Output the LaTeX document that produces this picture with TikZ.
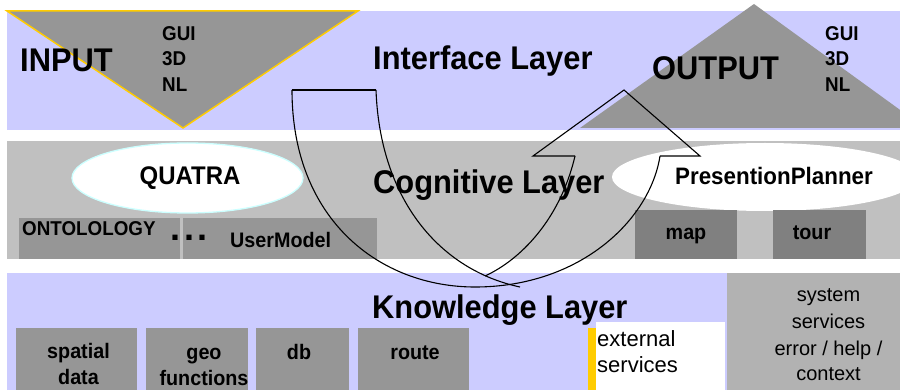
\documentclass[tikz,border=0pt]{standalone}
\usepackage{fontspec}
\setmainfont{Liberation Sans}
\definecolor{lavender}{HTML}{CCCCFF}
\definecolor{cogngray}{HTML}{C0C0C0}
\definecolor{boxgray}{HTML}{969696}
\definecolor{darkbox}{HTML}{808080}
\definecolor{sysgray}{HTML}{B2B2B2}
\definecolor{amber}{HTML}{FFCC00}
\definecolor{paleaqua}{HTML}{CCFFFF}
% slightly narrowed lettering
\newcommand\narrowtext[1]{\scalebox{0.94}[1]{#1}}
\begin{document}
\begin{tikzpicture}[x=1pt,y=-1pt,
  txt/.style={inner sep=0pt, anchor=base},
  txtl/.style={inner sep=0pt, anchor=base west},
  head/.style={font=\bfseries\fontsize{32.8}{32.8}\selectfont},
  med/.style={font=\bfseries\fontsize{25.5}{25.5}\selectfont},
  small/.style={font=\bfseries\fontsize{20}{20}\selectfont},
  boxtxt/.style={font=\bfseries\fontsize{21}{21}\selectfont},
  plain/.style={font=\fontsize{20}{20}\selectfont},
  uturn/.style={draw=black, line width=1.1pt, line join=miter}]
\useasboundingbox (0,0) rectangle (900,390);
\fill[white] (0,0) rectangle (900,390);
\clip (0,0) rectangle (900,390);

% ---- layer bands
\fill[lavender] (7,11) rectangle (900,130);
\fill[cogngray] (7,141) rectangle (900,259);
\fill[lavender] (7,273) rectangle (727,390);
\fill[sysgray] (727,273) rectangle (900,390);

% ---- interface layer
\filldraw[fill=boxgray, draw=amber, line width=1.5pt, line join=miter]
  (7,11) -- (358,11) -- (183,128) -- cycle;
\fill[boxgray] (754,4) -- (925,128) -- (580,128) -- cycle;

\node[txtl, head] (input) at (20,72) {\narrowtext{INPUT}};
\node[txtl, small] (inGUI) at (162,40.5) {\narrowtext{GUI}};
\node[txtl, small] (inThreeD) at (162,65.5) {\narrowtext{3D}};
\node[txtl, small] (inNL) at (162,91.5) {\narrowtext{NL}};
\node[txtl, head] (interface) at (373,70) {\narrowtext{Interface Layer}};
\node[txtl, head] (output) at (652,80) {\narrowtext{OUTPUT}};
\node[txtl, small] (outGUI) at (825,40.5) {\narrowtext{GUI}};
\node[txtl, small] (outThreeD) at (825,65.5) {\narrowtext{3D}};
\node[txtl, small] (outNL) at (825,91.5) {\narrowtext{NL}};

% ---- cognitive layer
\filldraw[fill=white, draw=paleaqua, line width=1.3pt] (187.5,178) ellipse [x radius=115.5, y radius=35];
\fill[white] (765,177) ellipse [x radius=153, y radius=34];
\fill[boxgray] (19,218) rectangle (180,259);
\fill[boxgray] (183,218) rectangle (377,259);
\fill[darkbox] (635,210) rectangle (737,259);
\fill[darkbox] (773,210) rectangle (866,259);

\node[txt, med] (quatra) at (190,185) {\narrowtext{QUATRA}};
\node[txtl, head] (cognitive) at (373,194) {\narrowtext{Cognitive Layer}};
\node[txt, font=\bfseries\fontsize{23.8}{23.8}\selectfont] (planner) at (774,185) {\narrowtext{PresentionPlanner}};
\node[txtl, small] (ontology) at (22,236) {\narrowtext{ONTOLOLOGY}};
\node[txtl, font=\bfseries\fontsize{36}{36}\selectfont] (dots) at (170.4,241) {.\kern3.5pt.\kern3.5pt.};
\node[txtl, boxtxt] (usermodel) at (230,248) {\narrowtext{UserModel}};
\node[txt, boxtxt] (map) at (686,240) {\narrowtext{map}};
\node[txt, boxtxt] (tour) at (812,240) {\narrowtext{tour}};

% ---- knowledge layer
\fill[boxgray] (16,328) rectangle (137,390);
\fill[boxgray] (146,328) rectangle (248,390);
\fill[boxgray] (256,328) rectangle (349,390);
\fill[boxgray] (358,328) rectangle (469,390);
\fill[white] (596,322) rectangle (725,390);
\fill[amber] (588,328) rectangle (596,390);

\node[txtl, head] (knowledge) at (372,318) {\narrowtext{Knowledge Layer}};
\node[txt, boxtxt] (spatial) at (78.5,358.5) {\narrowtext{spatial}};
\node[txt, boxtxt] (data) at (78.5,384) {\narrowtext{data}};
\node[txt, boxtxt] (geo) at (204,359.5) {\narrowtext{geo}};
\node[txt, boxtxt] (functions) at (204,385) {\narrowtext{functions}};
\node[txt, boxtxt] (db) at (299,359) {\narrowtext{db}};
\node[txt, boxtxt] (route) at (415,359) {\narrowtext{route}};
\node[txtl, font=\fontsize{22}{22}\selectfont] (external) at (597,346) {external};
\node[txtl, font=\fontsize{22}{22}\selectfont] (extservices) at (597,372.7) {services};
\node[txt, plain] (system) at (828.5,301.7) {system};
\node[txt, plain] (sysservices) at (828.5,328.3) {services};
\node[txt, plain] (errorhelp) at (828.5,355) {error / help /};
\node[txt, plain] (context) at (828.5,380) {context};

% ---- curved up arrow (outline only)
\draw[uturn] (292,90) -- (376,90);
\draw[uturn] (292,90) .. controls (292,220) and (380,287) .. (475,287)
  .. controls (580,287) and (650,220) .. (660,156);
\draw[uturn] (376,90) .. controls (380,200) and (440,270) .. (520,287);
\draw[uturn] (575,156) .. controls (560,220) and (520,260) .. (485,276);
\draw[uturn] (575,156) -- (533,156) -- (624,90) -- (700,156) -- (660,156);
\end{tikzpicture}
\end{document}
